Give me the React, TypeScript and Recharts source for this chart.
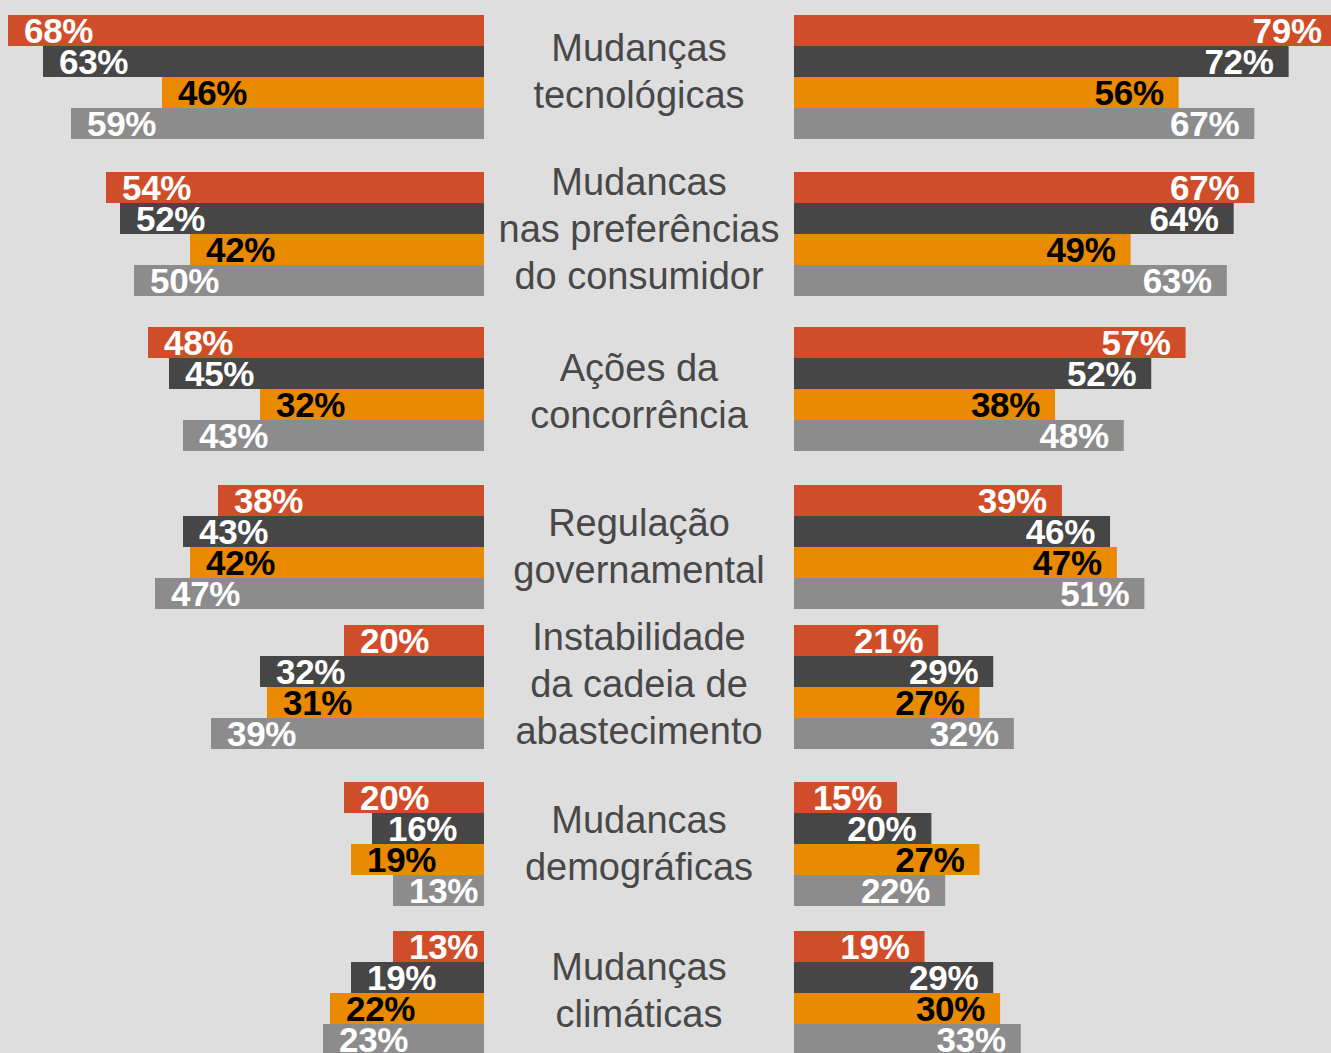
import React from 'react';
import { BarChart, Bar, XAxis, YAxis, LabelList } from 'recharts';

// ---- Data ----
const categories = [
  'Mudanças\ntecnológicas',
  'Mudancas\nnas preferências\ndo consumidor',
  'Ações da\nconcorrência',
  'Regulação\ngovernamental',
  'Instabilidade\nda cadeia de\nabastecimento',
  'Mudancas\ndemográficas',
  'Mudanças\nclimáticas',
];

const leftRed = [68, 54, 48, 38, 20, 20, 13];
const leftDark = [63, 52, 45, 43, 32, 16, 19];
const leftOrange = [46, 42, 32, 42, 31, 19, 22];
const leftGray = [59, 50, 43, 47, 39, 13, 23];

const rightRed = [79, 67, 57, 39, 21, 15, 19];
const rightDark = [72, 64, 52, 46, 29, 20, 29];
const rightOrange = [56, 49, 38, 47, 27, 27, 30];
const rightGray = [67, 63, 48, 51, 32, 22, 33];

// ---- Styles / layout ----
const SERIES = [
  { key: 'red', color: '#cf4e29', text: '#ffffff' },
  { key: 'dark', color: '#464646', text: '#ffffff' },
  { key: 'orange', color: '#ea8a00', text: '#000000' },
  { key: 'gray', color: '#8c8c8d', text: '#ffffff' },
];

const GROUP_TOPS = [15, 172, 327, 485, 625, 782, 931];
const LABEL_CENTERS = [72, 229, 392, 547, 684, 844, 991];
const GROUP_H = 125;
const LEFT_W = 484;
const RIGHT_X = 794;
const RIGHT_W = 600;
const LEFT_PX_PER_PCT = 7.0;
const RIGHT_PX_PER_PCT = 6.87;
const FONT = '"Liberation Sans", Arial, Helvetica, sans-serif';

const buildRows = (r: number[], d: number[], o: number[], g: number[]) =>
  categories.map((c, i) => ({ category: c, red: r[i], dark: d[i], orange: o[i], gray: g[i] }));

const leftRows = buildRows(leftRed, leftDark, leftOrange, leftGray);
const rightRows = buildRows(rightRed, rightDark, rightOrange, rightGray);

function ValueLabel(props: any) {
  const { side, color, value } = props;
  const vb = props.viewBox && props.viewBox.width !== undefined ? props.viewBox : props;
  const x = Number(vb.x);
  const w = Number(vb.width);
  const y = Number(vb.y);
  const h = Number(vb.height);
  const left = Math.min(x, x + w);
  const right = Math.max(x, x + w);
  const cy = y + h / 2;
  return (
    <text
      x={side === 'left' ? left + 16 : right - 15}
      y={cy + 12.5}
      textAnchor={side === 'left' ? 'start' : 'end'}
      fill={color}
      fontSize={35}
      fontWeight={700}
      fontFamily={FONT}
      letterSpacing={-0.3}
    >
      {value}%
    </text>
  );
}

function GroupChart({ row, side }: { row: any; side: 'left' | 'right' }) {
  const width = side === 'left' ? LEFT_W : RIGHT_W;
  const domainMax = side === 'left' ? LEFT_W / LEFT_PX_PER_PCT : RIGHT_W / RIGHT_PX_PER_PCT;
  return (
    <BarChart
      layout="vertical"
      width={width}
      height={GROUP_H}
      data={[row]}
      margin={{ top: 0, right: 0, bottom: 0, left: 0 }}
      barCategoryGap={0}
      barGap={0}
      style={{ overflow: 'visible' }}
    >
      <XAxis type="number" domain={[0, domainMax]} reversed={side === 'left'} hide allowDataOverflow />
      <YAxis type="category" dataKey="category" hide />
      {SERIES.map((s) => (
        <Bar key={s.key} dataKey={s.key} fill={s.color} isAnimationActive={false}>
          <LabelList
            dataKey={s.key}
            content={(p: any) => <ValueLabel {...p} side={side} color={s.text} />}
          />
        </Bar>
      ))}
    </BarChart>
  );
}

export default function App() {
  return (
    <div
      style={{
        position: 'absolute',
        left: 0,
        top: 0,
        width: 1331,
        height: 1053,
        background: '#dedede',
        overflow: 'hidden',
        fontFamily: FONT,
      }}
    >
      {categories.map((c, i) => {
        const lines = c.split('\n');
        return (
          <React.Fragment key={i}>
            <div style={{ position: 'absolute', left: 0, top: GROUP_TOPS[i] }}>
              <GroupChart row={leftRows[i]} side="left" />
            </div>
            <div style={{ position: 'absolute', left: RIGHT_X, top: GROUP_TOPS[i] }}>
              <GroupChart row={rightRows[i]} side="right" />
            </div>
            <div
              style={{
                position: 'absolute',
                left: LEFT_W,
                width: RIGHT_X - LEFT_W,
                top: LABEL_CENTERS[i] - (lines.length * 47) / 2,
                textAlign: 'center',
                fontSize: 38,
                lineHeight: '47px',
                color: '#484848',
                whiteSpace: 'pre-line',
              }}
            >
              {c}
            </div>
          </React.Fragment>
        );
      })}
    </div>
  );
}
